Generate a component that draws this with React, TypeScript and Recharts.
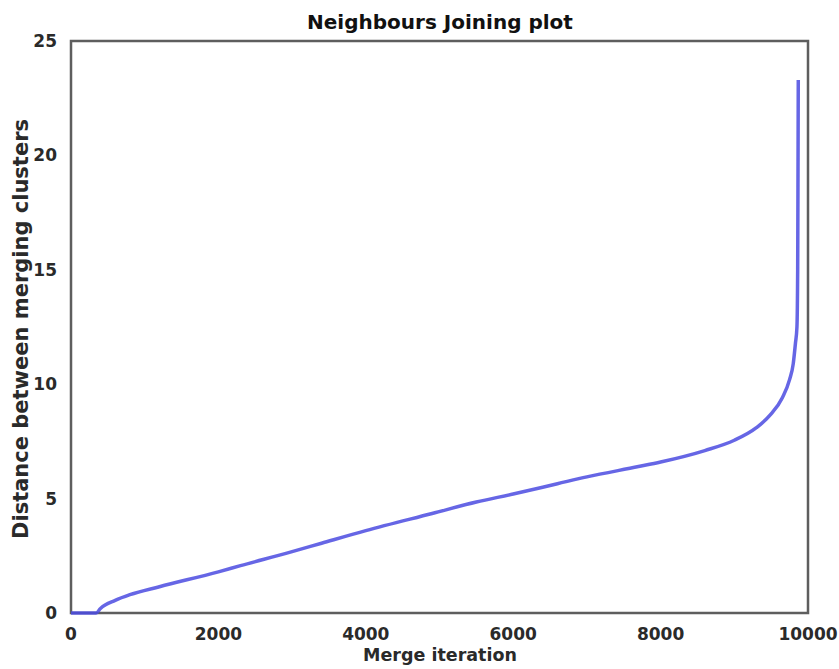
import { LineChart, Line, XAxis, YAxis, ReferenceArea } from 'recharts';

const iterations = [0, 340, 400, 600, 800, 1200, 2000, 2300, 3000, 3400, 4000, 4900, 5500, 6000, 6600, 7000, 7700, 8000, 8600, 9000, 9300, 9500, 9650, 9750, 9800, 9830, 9850, 9860, 9865, 9868];
const distances = [0, 0, 0.2, 0.55, 0.8, 1.15, 1.8, 2.07, 2.68, 3.05, 3.6, 4.35, 4.85, 5.2, 5.65, 5.95, 6.4, 6.6, 7.1, 7.55, 8.1, 8.7, 9.4, 10.2, 10.9, 11.8, 12.5, 15, 20, 23.3];
const xTicks = [0, 2000, 4000, 6000, 8000, 10000];
const yTicks = [0, 5, 10, 15, 20, 25];

const data = iterations.map((m, i) => ({ m, d: distances[i] }));

const font = '"DejaVu Sans", sans-serif';
const tickStyle = { fontSize: 17, fontWeight: 'bold', fill: '#2a2a2a', fontFamily: font };

export default function App() {
  return (
    <div style={{ position: 'absolute', left: 0, top: 0, width: 839, height: 669, background: '#fff' }}>
      <LineChart width={839} height={669} data={data} margin={{ left: 11, right: 31, top: 41, bottom: 0 }}>
        <XAxis
          dataKey="m"
          type="number"
          domain={[0, 10000]}
          ticks={xTicks}
          height={56}
          axisLine={false}
          tickLine={false}
          tickMargin={9}
          tick={tickStyle}
          interval={0}
        />
        <YAxis
          type="number"
          domain={[0, 25]}
          ticks={yTicks}
          width={60}
          axisLine={false}
          tickLine={false}
          tickMargin={8}
          tick={tickStyle}
          interval={0}
        />
        <ReferenceArea x1={0} x2={10000} y1={0} y2={25} fill="none" stroke="#5e5e5e" strokeWidth={2.5} />
        <Line
          type="monotone"
          dataKey="d"
          stroke="#4b4be0"
          strokeOpacity={0.85}
          strokeWidth={3.5}
          dot={false}
          isAnimationActive={false}
        />
      </LineChart>
      <svg width={839} height={669} style={{ position: 'absolute', left: 0, top: 0, pointerEvents: 'none' }}>
        <text x={440} y={29} textAnchor="middle" fontFamily={font} fontSize={20} fontWeight="bold" fill="#111">
          Neighbours Joining plot
        </text>
        <text x={440} y={661} textAnchor="middle" fontFamily={font} fontSize={17.5} fontWeight="bold" fill="#2a2a2a">
          Merge iteration
        </text>
        <text x={28} y={329} textAnchor="middle" fontFamily={font} fontSize={21} fontWeight="bold" fill="#2a2a2a" transform="rotate(-90 28 329)">
          Distance between merging clusters
        </text>
      </svg>
    </div>
  );
}
